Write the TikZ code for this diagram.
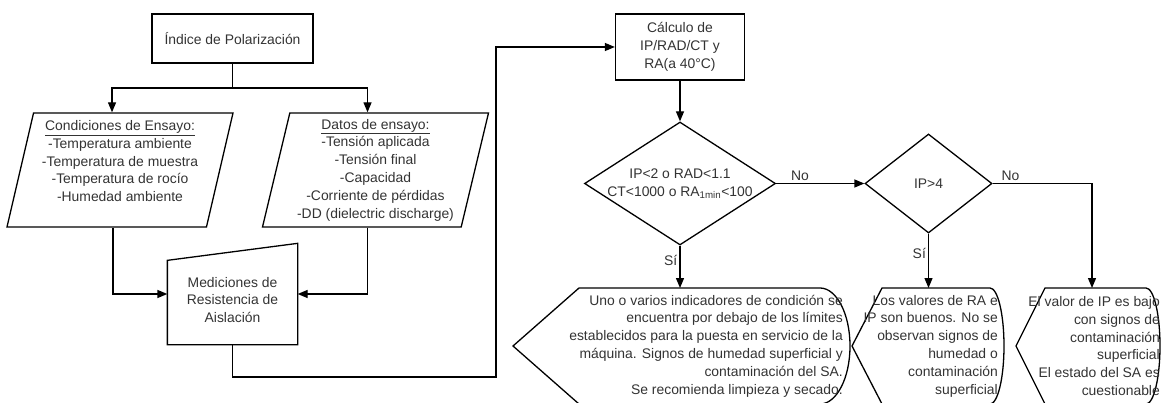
\documentclass[tikz,border=0pt]{standalone}
\usepackage{fontspec}
\setmainfont{Liberation Sans}
\usetikzlibrary{shapes.geometric,arrows.meta}
\tikzset{
  every node/.style={font=\fontsize{13.9}{17.8}\selectfont, text=black!80},
  proc/.style={rectangle, draw, line width=1.3pt, align=center, inner sep=0pt},
  data/.style={trapezium, trapezium left angle=75, trapezium right angle=105, trapezium stretches body,
    draw, line width=1.3pt, align=center, inner sep=0pt, minimum width=226pt, minimum height=114pt},
  decision/.style={diamond, draw, line width=1.3pt, align=center, inner sep=-8pt},
  note/.style={align=right, inner sep=0pt, anchor=east},
  lbl/.style={inner sep=2pt},
  line/.style={line width=1.3pt},
  arr/.style={line, -{Triangle[length=10pt,width=8pt]}}
}
\begin{document}
\begin{tikzpicture}[x=1pt, y=-1pt]
    \useasboundingbox (0,0) rectangle (1161,403);

    \node[proc, minimum width=161pt, minimum height=49pt] at (232.5,38.5) (idx) {Índice de Polarización};
    \node[data] at (120,170) (cond) {\underline{Condiciones de Ensayo:}\\-Temperatura ambiente\\-Temperatura de muestra\\-Temperatura de rocío\\-Humedad ambiente\\\mbox{}};
    \node[data] at (375.5,170) (dat) {\underline{Datos de ensayo:}\\-Tensión aplicada\\-Tensión final\\-Capacidad\\-Corriente de pérdidas\\-DD (dielectric discharge)};
    \node[proc, draw=none, minimum width=129pt, minimum height=88pt] at (232.5,300) (med) {Mediciones de\\Resistencia de\\Aislación};
    \draw[line] (med.south west) -- (med.south east) -- ([yshift=12pt]med.north east) -- ([yshift=-5pt]med.north west) -- cycle;

    \coordinate (fork) at (232.5,88);
    \draw[line] (idx.south) -- (fork);
    \draw[arr]  (fork) -| ([xshift=-8pt]cond.north);
    \draw[arr]  (fork) -| ([xshift=-8pt]dat.north);
    \draw[arr]  ([xshift=-7pt]cond.south) |- ([yshift=6pt]med.west);
    \draw[arr]  ([xshift=-8pt]dat.south) |- ([yshift=6pt]med.east);

    \node[proc, minimum width=129pt, minimum height=66pt] at (680,47) (calc) {Cálculo de\\IP/RAD/CT y\\RA(a 40°C)};
    \coordinate (loop) at (496,377);
    \draw[arr]  (med.south) |- (loop) |- (calc.west);

    \node[decision, aspect=1.55, minimum width=191pt, minimum height=123pt] at (680,183.5) (d1) {IP<2 o RAD<1.1\\CT<1000 o RA\textsubscript{1min}<100};
    \node[decision, aspect=1.28, minimum width=127pt, minimum height=99pt] at (928.5,183.5) (d2) {IP>4};
    \draw[arr]  (calc.south) -- (d1.north);
    \draw[arr]  (d1.east) -- node[lbl, pos=0.27, above] {No} (d2.west);

    \draw[line] (513,346) -- (579,288) -- (820,288) arc[start angle=90, end angle=-90, x radius=30pt, y radius=58pt] -- (579,404) -- cycle;
    \draw[line] (852,346) -- (882,288) -- (990,288) arc[start angle=90, end angle=-90, x radius=14pt, y radius=58pt] -- (882,404) -- cycle;
    \draw[line] (1016,346) -- (1045,288) -- (1146,288) arc[start angle=90, end angle=-90, x radius=14pt, y radius=58pt] -- (1045,404) -- cycle;
    \node[note] at (843,346) (m1) {Uno o varios indicadores de condición se\\encuentra por debajo de los límites\\establecidos para la puesta en servicio de la\\máquina. Signos de humedad superficial y\\contaminación del SA.\\Se recomienda limpieza y secado.};
    \node[note] at (998,346) (m2) {Los valores de RA e\\IP son buenos. No se\\observan signos de\\humedad o\\contaminación\\superficial};
    \node[note] at (1160,346) (m3) {El valor de IP es bajo\\con signos de\\contaminación\\superficial\\El estado del SA es\\cuestionable};

    \coordinate (m1in) at (680,288);
    \coordinate (m2in) at (928.5,288);
    \coordinate (m3in) at (1092,288);
    \draw[arr]  (d1.south) -- node[lbl, pos=0.35, left] {Sí} (m1in);
    \draw[arr]  (d2.south) -- node[lbl, pos=0.36, left] {Sí} (m2in);
    \draw[arr]  (d2.east) -| node[lbl, pos=0.09, above] {No} (m3in);
\end{tikzpicture}
\end{document}
